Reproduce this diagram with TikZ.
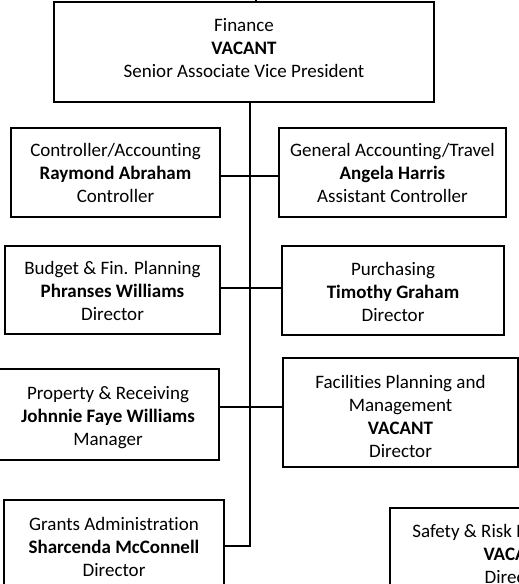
\documentclass[tikz,border=0pt]{standalone}
\usepackage{fontspec}
\setmainfont{Carlito}[Ligatures=NoCommon]
\newcommand{\orgtext}[2]{\raisebox{#1}[\height][\depth]{\begin{tabular}{@{}c@{}}#2\end{tabular}}}
\begin{document}
\begin{tikzpicture}[x=1pt,y=-1pt,
  orgbox/.style={draw, line width=1.6pt, inner sep=0pt,
    font=\fontsize{19}{23}\selectfont},
  link/.style={line width=1.6pt}]
\useasboundingbox (0,0) rectangle (519,584);
\clip (0,0) rectangle (519,584);
\node[orgbox, minimum width=380, minimum height=100] (fin) at (244,52)
  {\orgtext{2pt}{Finance\\\textbf{VACANT}\\Senior Associate Vice President}};
\node[orgbox, minimum width=209, minimum height=89] (ctrl) at (115.5,172.5)
  {\orgtext{-2.5pt}{Controller/Accounting\\\textbf{Raymond Abraham}\\Controller}};
\node[orgbox, minimum width=227, minimum height=89] (gen) at (392.5,172.5)
  {\orgtext{-2.5pt}{General Accounting/Travel\\\textbf{Angela Harris}\\Assistant Controller}};
\node[orgbox, minimum width=215, minimum height=88] (bud) at (112.5,290)
  {\orgtext{-3pt}{Budget \& Fin. Planning\\\textbf{Phranses Williams}\\Director}};
\node[orgbox, minimum width=222, minimum height=89] (pur) at (393,290.5)
  {\orgtext{-3pt}{Purchasing\\\textbf{Timothy Graham}\\Director}};
\node[orgbox, minimum width=222, minimum height=91] (prop) at (108,414.5)
  {\orgtext{-3pt}{Property \& Receiving\\\textbf{Johnnie Faye Williams}\\Manager}};
\node[orgbox, minimum width=235, minimum height=109] (fac) at (400.5,412.5)
  {\orgtext{-6pt}{Facilities Planning and\\Management\\\textbf{VACANT}\\Director}};
\node[orgbox, minimum width=220, minimum height=92] (grants) at (114,546)
  {\orgtext{-3pt}{Grants Administration\\\textbf{Sharcenda McConnell}\\Director}};
\node[orgbox, minimum width=252, minimum height=92] (safety) at (516,554)
  {\orgtext{-2pt}{Safety \& Risk Management\\\textbf{VACANT}\\Director}};
\coordinate (up) at (256,0);
\coordinate (spine) at (250,0);
\draw[link] (up) -- (up |- fin.north);
\draw[link] (spine |- fin.south) -- (spine |- grants.east) -- (grants.east);
\draw[link] (ctrl.east |- 0,176) -- (gen.west |- 0,176);
\draw[link] (bud.east |- 0,288) -- (pur.west |- 0,288);
\draw[link] (prop.east |- 0,407) -- (fac.west |- 0,407);
\end{tikzpicture}
\end{document}
